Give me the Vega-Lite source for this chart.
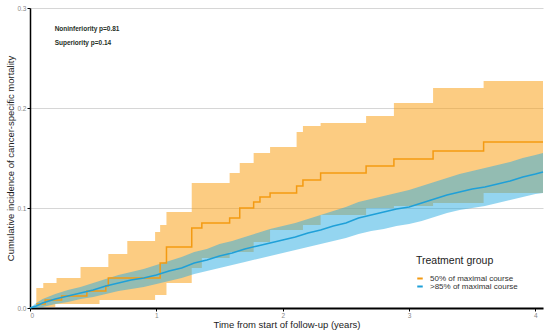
{
  "$schema": "https://vega.github.io/schema/vega-lite/v6.json",
  "width": 513,
  "height": 300,
  "autosize": {"type": "none"},
  "padding": {"left": 30, "top": 8, "right": 5, "bottom": 27},
  "background": "white",
  "config": {
    "view": {"stroke": null},
    "font": "Liberation Sans",
    "axis": {"labelFont": "Liberation Sans", "titleFont": "Liberation Sans"}
  },
  "datasets": {
    "orange": [
      {"group": "50% of maximal course", "t": 0.05, "est": 0.004, "lo": 0.001, "hi": 0.020},
      {"group": "50% of maximal course", "t": 0.105, "est": 0.004, "lo": 0.001, "hi": 0.025},
      {"group": "50% of maximal course", "t": 0.12, "est": 0.008, "lo": 0.001, "hi": 0.025},
      {"group": "50% of maximal course", "t": 0.20, "est": 0.008, "lo": 0.004, "hi": 0.025},
      {"group": "50% of maximal course", "t": 0.21, "est": 0.008, "lo": 0.004, "hi": 0.030},
      {"group": "50% of maximal course", "t": 0.25, "est": 0.012, "lo": 0.004, "hi": 0.030},
      {"group": "50% of maximal course", "t": 0.40, "est": 0.012, "lo": 0.004, "hi": 0.041},
      {"group": "50% of maximal course", "t": 0.45, "est": 0.017, "lo": 0.004, "hi": 0.041},
      {"group": "50% of maximal course", "t": 0.55, "est": 0.017, "lo": 0.008, "hi": 0.041},
      {"group": "50% of maximal course", "t": 0.60, "est": 0.022, "lo": 0.008, "hi": 0.041},
      {"group": "50% of maximal course", "t": 0.62, "est": 0.030, "lo": 0.008, "hi": 0.054},
      {"group": "50% of maximal course", "t": 0.77, "est": 0.030, "lo": 0.008, "hi": 0.067},
      {"group": "50% of maximal course", "t": 0.99, "est": 0.030, "lo": 0.013, "hi": 0.076},
      {"group": "50% of maximal course", "t": 1.03, "est": 0.045, "lo": 0.013, "hi": 0.083},
      {"group": "50% of maximal course", "t": 1.08, "est": 0.061, "lo": 0.025, "hi": 0.096},
      {"group": "50% of maximal course", "t": 1.28, "est": 0.080, "lo": 0.040, "hi": 0.125},
      {"group": "50% of maximal course", "t": 1.36, "est": 0.085, "lo": 0.050, "hi": 0.125},
      {"group": "50% of maximal course", "t": 1.58, "est": 0.090, "lo": 0.056, "hi": 0.135},
      {"group": "50% of maximal course", "t": 1.66, "est": 0.100, "lo": 0.056, "hi": 0.145},
      {"group": "50% of maximal course", "t": 1.77, "est": 0.106, "lo": 0.066, "hi": 0.155},
      {"group": "50% of maximal course", "t": 1.82, "est": 0.111, "lo": 0.066, "hi": 0.155},
      {"group": "50% of maximal course", "t": 1.90, "est": 0.115, "lo": 0.078, "hi": 0.161},
      {"group": "50% of maximal course", "t": 2.11, "est": 0.122, "lo": 0.078, "hi": 0.176},
      {"group": "50% of maximal course", "t": 2.16, "est": 0.128, "lo": 0.083, "hi": 0.182},
      {"group": "50% of maximal course", "t": 2.30, "est": 0.135, "lo": 0.093, "hi": 0.185},
      {"group": "50% of maximal course", "t": 2.66, "est": 0.142, "lo": 0.100, "hi": 0.192},
      {"group": "50% of maximal course", "t": 2.88, "est": 0.149, "lo": 0.102, "hi": 0.205},
      {"group": "50% of maximal course", "t": 3.19, "est": 0.157, "lo": 0.105, "hi": 0.220},
      {"group": "50% of maximal course", "t": 3.59, "est": 0.166, "lo": 0.115, "hi": 0.227},
      {"group": "50% of maximal course", "t": 4.06, "est": 0.166, "lo": 0.115, "hi": 0.227}
    ],
    "blue": [
      {"group": ">85% of maximal course", "t": 0.00, "est": 0.000, "lo": 0.000, "hi": 0.000},
      {"group": ">85% of maximal course", "t": 0.05, "est": 0.002, "lo": 0.000, "hi": 0.005},
      {"group": ">85% of maximal course", "t": 0.10, "est": 0.005, "lo": 0.001, "hi": 0.009},
      {"group": ">85% of maximal course", "t": 0.20, "est": 0.009, "lo": 0.004, "hi": 0.014},
      {"group": ">85% of maximal course", "t": 0.30, "est": 0.012, "lo": 0.006, "hi": 0.018},
      {"group": ">85% of maximal course", "t": 0.40, "est": 0.015, "lo": 0.009, "hi": 0.021},
      {"group": ">85% of maximal course", "t": 0.50, "est": 0.018, "lo": 0.011, "hi": 0.025},
      {"group": ">85% of maximal course", "t": 0.60, "est": 0.022, "lo": 0.014, "hi": 0.029},
      {"group": ">85% of maximal course", "t": 0.70, "est": 0.025, "lo": 0.017, "hi": 0.033},
      {"group": ">85% of maximal course", "t": 0.80, "est": 0.028, "lo": 0.019, "hi": 0.036},
      {"group": ">85% of maximal course", "t": 0.90, "est": 0.030, "lo": 0.021, "hi": 0.039},
      {"group": ">85% of maximal course", "t": 1.00, "est": 0.033, "lo": 0.024, "hi": 0.043},
      {"group": ">85% of maximal course", "t": 1.10, "est": 0.037, "lo": 0.027, "hi": 0.047},
      {"group": ">85% of maximal course", "t": 1.20, "est": 0.040, "lo": 0.030, "hi": 0.051},
      {"group": ">85% of maximal course", "t": 1.30, "est": 0.045, "lo": 0.034, "hi": 0.056},
      {"group": ">85% of maximal course", "t": 1.40, "est": 0.048, "lo": 0.037, "hi": 0.059},
      {"group": ">85% of maximal course", "t": 1.50, "est": 0.052, "lo": 0.040, "hi": 0.064},
      {"group": ">85% of maximal course", "t": 1.60, "est": 0.055, "lo": 0.043, "hi": 0.067},
      {"group": ">85% of maximal course", "t": 1.70, "est": 0.059, "lo": 0.046, "hi": 0.071},
      {"group": ">85% of maximal course", "t": 1.80, "est": 0.062, "lo": 0.049, "hi": 0.075},
      {"group": ">85% of maximal course", "t": 1.90, "est": 0.065, "lo": 0.052, "hi": 0.079},
      {"group": ">85% of maximal course", "t": 2.00, "est": 0.068, "lo": 0.055, "hi": 0.082},
      {"group": ">85% of maximal course", "t": 2.10, "est": 0.071, "lo": 0.058, "hi": 0.085},
      {"group": ">85% of maximal course", "t": 2.20, "est": 0.075, "lo": 0.061, "hi": 0.089},
      {"group": ">85% of maximal course", "t": 2.30, "est": 0.078, "lo": 0.064, "hi": 0.093},
      {"group": ">85% of maximal course", "t": 2.40, "est": 0.082, "lo": 0.067, "hi": 0.097},
      {"group": ">85% of maximal course", "t": 2.50, "est": 0.085, "lo": 0.070, "hi": 0.101},
      {"group": ">85% of maximal course", "t": 2.60, "est": 0.090, "lo": 0.074, "hi": 0.106},
      {"group": ">85% of maximal course", "t": 2.70, "est": 0.093, "lo": 0.077, "hi": 0.109},
      {"group": ">85% of maximal course", "t": 2.80, "est": 0.096, "lo": 0.079, "hi": 0.112},
      {"group": ">85% of maximal course", "t": 2.90, "est": 0.099, "lo": 0.082, "hi": 0.115},
      {"group": ">85% of maximal course", "t": 3.00, "est": 0.101, "lo": 0.084, "hi": 0.118},
      {"group": ">85% of maximal course", "t": 3.10, "est": 0.105, "lo": 0.087, "hi": 0.122},
      {"group": ">85% of maximal course", "t": 3.20, "est": 0.109, "lo": 0.091, "hi": 0.126},
      {"group": ">85% of maximal course", "t": 3.30, "est": 0.113, "lo": 0.095, "hi": 0.130},
      {"group": ">85% of maximal course", "t": 3.40, "est": 0.116, "lo": 0.098, "hi": 0.134},
      {"group": ">85% of maximal course", "t": 3.50, "est": 0.119, "lo": 0.100, "hi": 0.137},
      {"group": ">85% of maximal course", "t": 3.60, "est": 0.121, "lo": 0.102, "hi": 0.140},
      {"group": ">85% of maximal course", "t": 3.70, "est": 0.124, "lo": 0.105, "hi": 0.143},
      {"group": ">85% of maximal course", "t": 3.80, "est": 0.127, "lo": 0.108, "hi": 0.146},
      {"group": ">85% of maximal course", "t": 3.90, "est": 0.131, "lo": 0.111, "hi": 0.150},
      {"group": ">85% of maximal course", "t": 4.00, "est": 0.134, "lo": 0.114, "hi": 0.153},
      {"group": ">85% of maximal course", "t": 4.06, "est": 0.136, "lo": 0.115, "hi": 0.155}
    ],
    "notes": [
      {"note": "Noninferiority p=0.81", "t": 0.195, "v": 0.279},
      {"note": "Superiority p=0.14", "t": 0.195, "v": 0.265}
    ]
  },
  "layer": [
    {
      "data": {"name": "orange"},
      "mark": {"type": "area", "interpolate": "step-after", "color": "#F9A21B", "opacity": 0.55},
      "encoding": {
        "x": {"field": "t", "type": "quantitative", "scale": {"domain": [0, 4.06], "nice": false, "zero": false},
          "axis": {"title": "Time from start of follow-up (years)", "values": [0, 1, 2, 3, 4], "format": "d", "grid": false,
            "domainColor": "black", "domainWidth": 2, "tickColor": "black", "tickSize": 3, "tickWidth": 1,
            "labelColor": "#888", "labelFontSize": 6.5, "labelPadding": 1,
            "titleFontSize": 9.5, "titleFontWeight": "normal", "titleColor": "#222", "titleY": 11, "titleBaseline": "top"}},
        "y": {"field": "lo", "type": "quantitative", "scale": {"domain": [0, 0.3], "nice": false},
          "axis": {"title": "Cumulative incidence of cancer-specific mortality", "values": [0, 0.1, 0.2, 0.3], "format": ".1f",
            "grid": true, "gridColor": "#cccccc", "gridWidth": 0.8,
            "domainColor": "black", "domainWidth": 1.5, "tickColor": "black", "tickSize": 3, "tickWidth": 1,
            "labelColor": "#888", "labelFontSize": 6.5, "labelPadding": 1,
            "titleFontSize": 9.5, "titleFontWeight": "normal", "titleColor": "#222", "titleX": -15}},
        "y2": {"field": "hi"}
      }
    },
    {
      "data": {"name": "blue"},
      "mark": {"type": "area", "interpolate": "linear", "color": "#29ABE2", "opacity": 0.5},
      "encoding": {
        "x": {"field": "t", "type": "quantitative"},
        "y": {"field": "lo", "type": "quantitative"},
        "y2": {"field": "hi"}
      }
    },
    {
      "data": {"name": "orange"},
      "mark": {"type": "line", "interpolate": "step-after", "strokeWidth": 1.5},
      "encoding": {
        "x": {"field": "t", "type": "quantitative"},
        "y": {"field": "est", "type": "quantitative"},
        "color": {"field": "group", "type": "nominal",
          "scale": {"domain": ["50% of maximal course", ">85% of maximal course"], "range": ["#F39A12", "#1FA0D8"]},
          "legend": {"title": "Treatment group", "orient": "none", "legendX": 386, "legendY": 248,
            "titleFontSize": 10.5, "titleFontWeight": "normal", "titleColor": "#222", "titlePadding": 8,
            "labelFontSize": 8, "labelColor": "#333", "symbolType": "stroke", "symbolSize": 30, "symbolStrokeWidth": 2,
            "rowPadding": 0, "labelOffset": 6}}
      }
    },
    {
      "data": {"name": "blue"},
      "mark": {"type": "line", "interpolate": "linear", "strokeWidth": 1.5},
      "encoding": {
        "x": {"field": "t", "type": "quantitative"},
        "y": {"field": "est", "type": "quantitative"},
        "color": {"field": "group", "type": "nominal"}
      }
    },
    {
      "data": {"name": "notes"},
      "mark": {"type": "text", "align": "left", "baseline": "middle", "fontSize": 6.5, "fontWeight": "bold", "color": "#1f2f1f"},
      "encoding": {
        "x": {"field": "t", "type": "quantitative"},
        "y": {"field": "v", "type": "quantitative"},
        "text": {"field": "note"}
      }
    }
  ]
}
